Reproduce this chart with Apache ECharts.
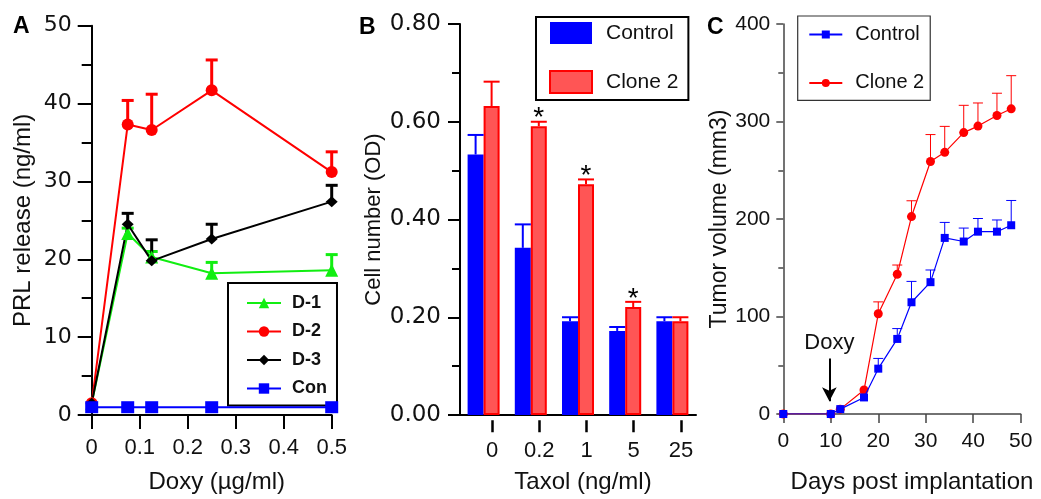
<!DOCTYPE html>
<html>
<head>
<meta charset="utf-8">
<script src="https://cdn.jsdelivr.net/npm/echarts@6/dist/echarts.min.js"></script>
<style>
  html, body { margin: 0; padding: 0; background: #fff; }
  #chart { width: 1041px; height: 499px; }
</style>
</head>
<body>
<div id="chart"></div>
<script>
// ---------- Panel A data ----------
const doxyX = [0, 0.075, 0.125, 0.25, 0.5];
const d1 = [1.5, 23.3, 20.3, 18.2, 18.6];
const d1Err = [null, 24.0, 21.0, 19.6, 20.6];
const d2 = [1.5, 37.3, 36.6, 41.7, 31.2];
const d2Err = [null, 40.4, 41.2, 45.6, 33.8];
const d3 = [1.5, 24.5, 19.8, 22.6, 27.4];
const d3Err = [null, 25.9, 22.5, 24.5, 29.5];
const con = [1, 1, 1, 1, 1];

// ---------- Panel B data ----------
const taxolCats = ['0', '0.2', '1', '5', '25'];
const ctrlB = [0.533, 0.342, 0.192, 0.172, 0.192];
const ctrlBErr = [0.573, 0.390, 0.200, 0.180, 0.200];
const cloneB = [0.632, 0.591, 0.472, 0.221, 0.192];
const cloneBErr = [0.682, 0.600, 0.482, 0.2315, 0.200];
const sigB = ['', '*', '*', '*', ''];

// ---------- Panel C data ----------
const days = [0, 10, 12, 17, 20, 24, 27, 31, 34, 38, 41, 45, 48];
const ctrlC = [0, 0, 5, 17, 46.5, 77, 114.6, 135.2, 180.6, 176.9, 187, 187, 193.6];
const ctrlCErr = [null, null, null, null, 57, 87.6, 136, 147.7, 196.5, 190.7, 200.5, 199, 219];
const cloneC = [0, 0, 5, 24.6, 102.8, 143.3, 202.5, 259, 268.4, 288.6, 295.3, 306.2, 313];
const cloneCErr = [null, null, null, null, 115, 152.8, 218.7, 286.6, 295, 316.6, 319, 329, 347];
const doxyDay = 9.7;

const FONT = "'Liberation Sans', Arial, sans-serif";
const WFONT = "'DejaVu Sans', sans-serif";
const GREEN = '#11ee11', RED = '#ff0000', BLACK = '#000000', BLUE = '#0000ff';

function pairs(xs, ys) { return xs.map((x, i) => [x, ys[i]]); }
function errData(xs, ys, es) {
  return xs.map((x, i) => [x, ys[i], es[i]]).filter(d => d[2] != null);
}
function errRender(color, lw, capW, dx) {
  return function (params, api) {
    const x = api.value(0), v = api.value(1), e = api.value(2);
    const a = api.coord([x, v]), b = api.coord([x, e]);
    return {
      type: 'group',
      children: [
        { type: 'line', shape: { x1: a[0] + dx, y1: a[1], x2: b[0] + dx, y2: b[1] },
          style: { stroke: color, lineWidth: lw } },
        { type: 'line', shape: { x1: b[0] + dx - capW / 2, y1: b[1], x2: b[0] + dx + capW / 2, y2: b[1] },
          style: { stroke: color, lineWidth: lw } }
      ]
    };
  };
}
function errRenderB(color, dx, withSig) {
  return function (params, api) {
    const i = api.value(0), v = api.value(1), e = api.value(2);
    const a = api.coord([i, v]), b = api.coord([i, e]);
    const ch = [
      { type: 'line', shape: { x1: a[0] + dx, y1: a[1], x2: b[0] + dx, y2: b[1] },
        style: { stroke: color, lineWidth: 2 } },
      { type: 'line', shape: { x1: b[0] + dx - 8, y1: b[1], x2: b[0] + dx + 8, y2: b[1] },
        style: { stroke: color, lineWidth: 2 } }
    ];
    if (withSig && sigB[params.dataIndex]) {
      ch.push({ type: 'text', style: { text: sigB[params.dataIndex], x: b[0] + dx, y: b[1] - 3,
        align: 'center', verticalAlign: 'middle', fill: '#000', font: '28px ' + FONT } });
    }
    return { type: 'group', children: ch };
  };
}

const axisBase = (color, w) => ({
  axisLine: { show: true, onZero: false, lineStyle: { color: color, width: w } },
  splitLine: { show: false }
});

const chart = echarts.init(document.getElementById('chart'), null, { renderer: 'canvas' });
const option = {
  animation: false,
  backgroundColor: '#ffffff',
  grid: [
    { left: 91.7, right: 709.3, top: 25.7, bottom: 81.3 },   // A
    { left: 460, width: 236, top: 24, bottom: 78.7 },        // B bars
    { left: 468.5, width: 236, top: 24, bottom: 78.7 },      // B ticks
    { left: 783.3, right: 20.3, top: 24, bottom: 79.7 }      // C
  ],
  xAxis: [
    Object.assign(axisBase(BLACK, 2), {
      gridIndex: 0, type: 'value', min: 0, max: 0.5, interval: 0.1,
      axisTick: { show: true, length: 14, lineStyle: { width: 2, color: BLACK } },
      axisLabel: { fontFamily: FONT, fontSize: 22, color: '#111', margin: 22 },
      name: 'Doxy (µg/ml)', nameLocation: 'middle', nameGap: 55,
      nameTextStyle: { fontFamily: FONT, fontSize: 24, color: '#111', padding: [0, 0, 0, 10] }
    }),
    Object.assign(axisBase(BLACK, 2), {
      gridIndex: 1, type: 'category', data: taxolCats,
      axisTick: { show: false }, axisLabel: { show: false },
      name: 'Taxol (ng/ml)', nameLocation: 'middle', nameGap: 55,
      nameTextStyle: { fontFamily: FONT, fontSize: 24, color: '#111', padding: [0, 0, 0, 10] }
    }),
    {
      gridIndex: 2, type: 'category', data: taxolCats,
      axisLine: { show: false }, splitLine: { show: false },
      axisTick: { show: true, alignWithLabel: true, length: 12, lineStyle: { width: 2.5, color: BLACK } },
      axisLabel: { fontFamily: FONT, fontSize: 22, color: '#111', margin: 20 }
    },
    Object.assign(axisBase('#444', 1.5), {
      gridIndex: 3, type: 'value', min: 0, max: 50, interval: 10,
      axisTick: { show: true, length: 9, lineStyle: { width: 1.5, color: '#444' } },
      axisLabel: { fontFamily: FONT, fontSize: 21, color: '#111', margin: 17 },
      name: 'Days post implantation', nameLocation: 'middle', nameGap: 56,
      nameTextStyle: { fontFamily: FONT, fontSize: 24, color: '#111', padding: [0, 0, 0, 20] }
    })
  ],
  yAxis: [
    Object.assign(axisBase(BLACK, 2), {
      gridIndex: 0, type: 'value', min: 0, max: 50, interval: 10,
      axisTick: { show: true, length: 14, lineStyle: { width: 2, color: BLACK } },
      minorTick: { show: true, splitNumber: 2, length: 10, lineStyle: { width: 2, color: BLACK } },
      axisLabel: { fontFamily: WFONT, fontSize: 22, color: '#111', margin: 20 },
      name: 'PRL release (ng/ml)', nameLocation: 'middle', nameGap: 56,
      nameTextStyle: { fontFamily: FONT, fontSize: 24, color: '#111' }
    }),
    Object.assign(axisBase(BLACK, 2), {
      gridIndex: 1, type: 'value', min: 0, max: 0.8, interval: 0.2,
      axisTick: { show: true, length: 12, lineStyle: { width: 2, color: BLACK } },
      minorTick: { show: true, splitNumber: 2, length: 8, lineStyle: { width: 2, color: BLACK } },
      axisLabel: { fontFamily: WFONT, fontSize: 23, color: '#111', margin: 19,
        formatter: v => v.toFixed(2) },
      name: 'Cell number (OD)', nameLocation: 'middle', nameGap: 75,
      nameTextStyle: { fontFamily: FONT, fontSize: 22, color: '#111' }
    }),
    { gridIndex: 2, type: 'value', min: 0, max: 0.8, show: false },
    Object.assign(axisBase('#444', 1.5), {
      gridIndex: 3, type: 'value', min: 0, max: 400, interval: 100,
      axisTick: { show: true, length: 7, lineStyle: { width: 1.5, color: '#444' } },
      minorTick: { show: true, splitNumber: 2, length: 5, lineStyle: { width: 1.5, color: '#444' } },
      axisLabel: { fontFamily: FONT, fontSize: 21, color: '#111', margin: 13 },
      name: 'Tumor volume (mm3)', nameLocation: 'middle', nameGap: 48,
      nameTextStyle: { fontFamily: FONT, fontSize: 23, color: '#111' }
    })
  ],
  legend: [
    {
      data: ['D-1', 'D-2', 'D-3', 'Con'], orient: 'vertical', left: 228, top: 283,
      padding: [11, 10, 8, 18], itemGap: 10.5, itemWidth: 34, itemHeight: 13,
      backgroundColor: '#ffffff',
      borderColor: BLACK, borderWidth: 2, selectedMode: false,
      textStyle: { fontFamily: FONT, fontSize: 18, fontWeight: 'bold', color: '#111', padding: [0, 0, 0, 6] }
    },
    {
      data: ['B:Control', 'B:Clone 2'], orient: 'vertical', left: 536, top: 17,
      padding: [5, 10, 6, 13], itemGap: 26, itemWidth: 42, itemHeight: 22, icon: 'rect',
      backgroundColor: '#ffffff',
      borderColor: BLACK, borderWidth: 2, selectedMode: false,
      formatter: n => n.slice(2),
      textStyle: { fontFamily: FONT, fontSize: 21, color: '#111', padding: [4, 0, 0, 9] }
    },
    {
      data: ['C:Control', 'C:Clone 2'], orient: 'vertical', left: 797.7, top: 16,
      padding: [8.5, 6, 7.5, 10.6], itemGap: 28.4, itemWidth: 33, itemHeight: 10,
      backgroundColor: '#ffffff',
      borderColor: '#333', borderWidth: 1.2, selectedMode: false,
      formatter: n => n.slice(2),
      textStyle: { fontFamily: FONT, fontSize: 20, color: '#111', padding: [0, 0, 0, 8] }
    }
  ],
  graphic: [
    { type: 'text', left: 13, top: 15, style: { text: 'A', font: 'bold 23px ' + FONT, fill: '#000' } },
    { type: 'text', left: 359, top: 16, style: { text: 'B', font: 'bold 23px ' + FONT, fill: '#000' } },
    { type: 'text', left: 707, top: 16, style: { text: 'C', font: 'bold 23px ' + FONT, fill: '#000' } }
  ],
  series: [
    // ---- Panel A error bars ----
    { name: 'D-1 SEM', type: 'custom', xAxisIndex: 0, yAxisIndex: 0, z: 1, silent: true,
      renderItem: errRender(GREEN, 3, 12, 0), data: errData(doxyX, d1, d1Err) },
    { name: 'D-2 SEM', type: 'custom', xAxisIndex: 0, yAxisIndex: 0, z: 1, silent: true,
      renderItem: errRender(RED, 3, 12, 0), data: errData(doxyX, d2, d2Err) },
    { name: 'D-3 SEM', type: 'custom', xAxisIndex: 0, yAxisIndex: 0, z: 1, silent: true,
      renderItem: errRender(BLACK, 3, 12, 0), data: errData(doxyX, d3, d3Err) },
    // ---- Panel A lines ----
    { name: 'D-1', type: 'line', xAxisIndex: 0, yAxisIndex: 0, z: 3, data: pairs(doxyX, d1),
      symbol: 'triangle', symbolSize: 13, showAllSymbol: true,
      itemStyle: { color: GREEN }, lineStyle: { color: GREEN, width: 2 } },
    { name: 'D-2', type: 'line', xAxisIndex: 0, yAxisIndex: 0, z: 3, data: pairs(doxyX, d2),
      symbol: 'circle', symbolSize: 12,
      itemStyle: { color: RED }, lineStyle: { color: RED, width: 2 } },
    { name: 'D-3', type: 'line', xAxisIndex: 0, yAxisIndex: 0, z: 3, data: pairs(doxyX, d3),
      symbol: 'diamond', symbolSize: [12, 11],
      itemStyle: { color: BLACK }, lineStyle: { color: BLACK, width: 2 } },
    { name: 'Con', type: 'line', xAxisIndex: 0, yAxisIndex: 0, z: 4, data: pairs(doxyX, con),
      symbol: 'rect', symbolSize: [13, 12],
      itemStyle: { color: BLUE }, lineStyle: { color: BLUE, width: 2 } },
    // ---- Panel B bars ----
    { name: 'B:Control', type: 'bar', xAxisIndex: 1, yAxisIndex: 1, data: ctrlB,
      barWidth: 16, barGap: '0%', itemStyle: { color: BLUE } },
    { name: 'B:Clone 2', type: 'bar', xAxisIndex: 1, yAxisIndex: 1, data: cloneB,
      barWidth: 16, barGap: '0%', itemStyle: { color: '#ff5555', borderColor: RED, borderWidth: 2 } },
    { name: 'B:Control SEM', type: 'custom', xAxisIndex: 1, yAxisIndex: 1, z: 3, silent: true,
      renderItem: errRenderB(BLUE, -8, false), data: taxolCats.map((c, i) => [i, ctrlB[i], ctrlBErr[i]]) },
    { name: 'B:Clone 2 SEM', type: 'custom', xAxisIndex: 1, yAxisIndex: 1, z: 3, silent: true,
      renderItem: errRenderB(RED, 8, true), data: taxolCats.map((c, i) => [i, cloneB[i], cloneBErr[i]]) },
    // ---- Panel C ----
    { name: 'C:Control SEM', type: 'custom', xAxisIndex: 3, yAxisIndex: 3, z: 1, silent: true,
      renderItem: errRender(BLUE, 1, 10, 0), data: errData(days, ctrlC, ctrlCErr) },
    { name: 'C:Clone 2 SEM', type: 'custom', xAxisIndex: 3, yAxisIndex: 3, z: 1, silent: true,
      renderItem: errRender(RED, 1, 10, 0), data: errData(days, cloneC, cloneCErr) },
    { name: 'C:Clone 2', type: 'line', xAxisIndex: 3, yAxisIndex: 3, z: 3, data: pairs(days, cloneC),
      symbol: 'circle', symbolSize: 9,
      itemStyle: { color: RED }, lineStyle: { color: RED, width: 1.2 } },
    { name: 'C:Control', type: 'line', xAxisIndex: 3, yAxisIndex: 3, z: 4, data: pairs(days, ctrlC),
      symbol: 'rect', symbolSize: 8,
      itemStyle: { color: BLUE }, lineStyle: { color: BLUE, width: 1.2 },
      markLine: {
        silent: true, symbol: ['none', 'arrow'], symbolSize: [11, 14],
        lineStyle: { color: BLACK, width: 2, type: 'solid' },
        label: { show: true, position: 'start', formatter: 'Doxy', fontFamily: FONT, fontSize: 22, color: '#111', distance: 4 },
        data: [[{ coord: [doxyDay, 57] }, { coord: [doxyDay, 13] }]]
      } }
  ]
};
chart.setOption(option);
</script>
</body>
</html>
